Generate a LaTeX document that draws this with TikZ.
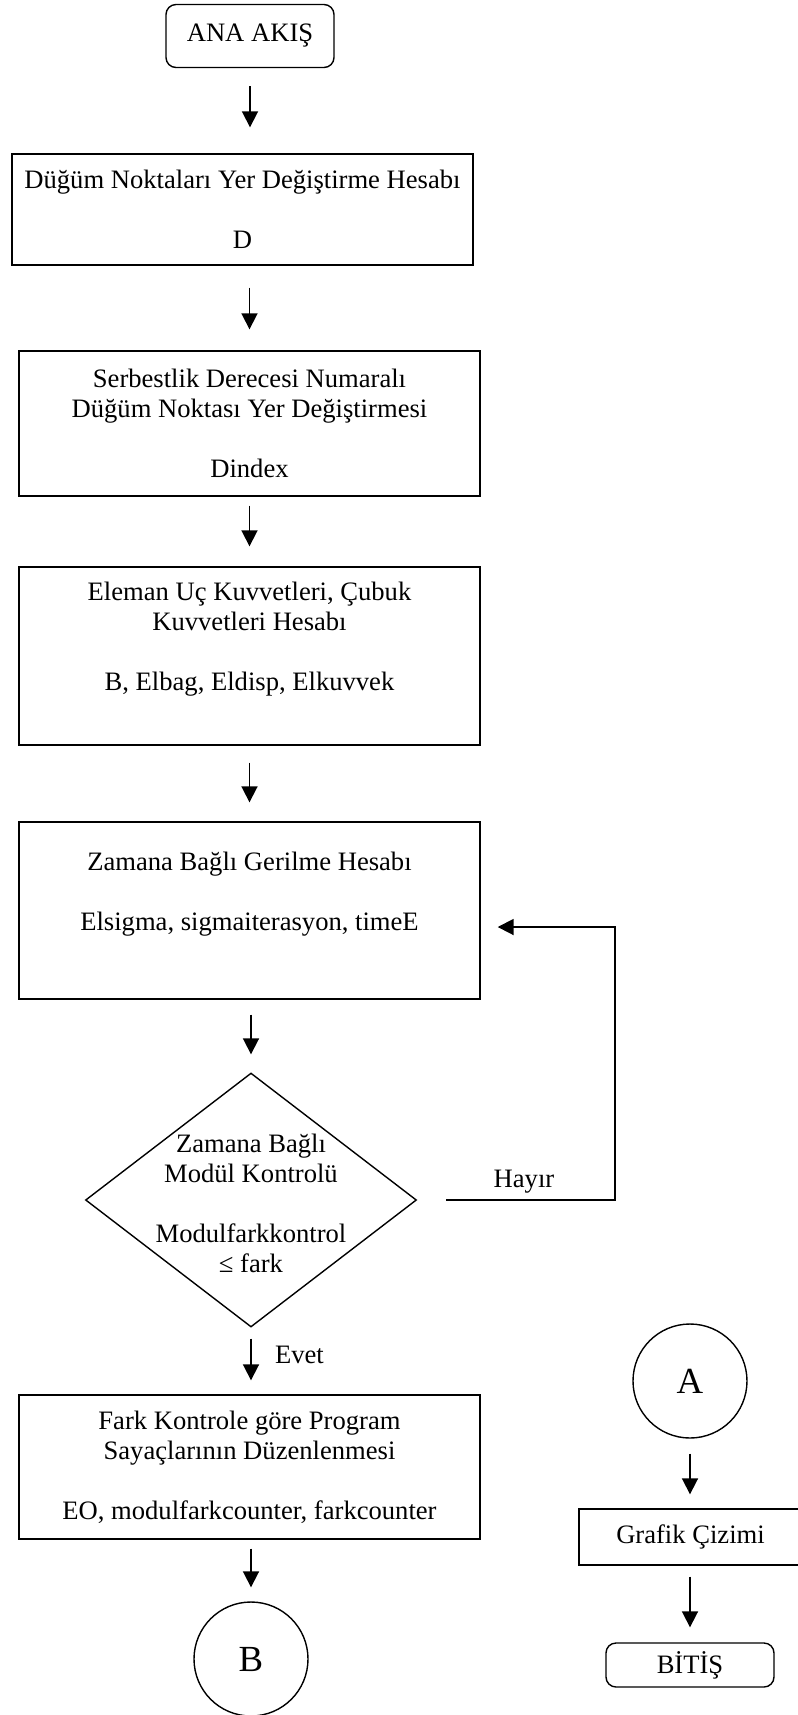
\documentclass[tikz,border=0pt]{standalone}
\usepackage{fontspec}
\setmainfont{Liberation Serif}
\usetikzlibrary{shapes.geometric,arrows.meta}
\begin{document}
\begin{tikzpicture}[x=0.5pt,y=-0.5pt,
        txt/.style={font=\fontsize{13.3}{15}\selectfont,align=center},
        box/.style={draw,line width=0.7pt,rectangle,inner sep=0pt,txt},
        term/.style={box,rounded corners=5pt},
        conn/.style={draw,circle,line width=0.7pt,inner sep=0pt,minimum size=57pt,font=\fontsize{18.4}{20}\selectfont},
        flow/.style={line width=0.9pt,-{Triangle[length=8pt,width=8pt]}}]
        \clip (0,0) rectangle (798,1715);
        %% Main flow
        \node[term,minimum width=84pt,minimum height=31.5pt] (S) at (250,36) {ANA AKIŞ};
        \node[box,minimum width=230.5pt,minimum height=55.5pt] (D) at (242.5,209.5) {Düğüm Noktaları Yer Değiştirme Hesabı\\[15pt] D};
        \node[box,minimum width=230.5pt,minimum height=72.5pt] (N) at (249.5,423.5) {Serbestlik Derecesi Numaralı\\ Düğüm Noktası Yer Değiştirmesi\\[15pt] Dindex};
        \node[box,minimum width=230.5pt,minimum height=89pt] (E) at (249.5,656) {Eleman Uç Kuvvetleri, Çubuk\\ Kuvvetleri Hesabı\\[15pt] B, Elbag, Eldisp, Elkuvvek\\ \strut};
        \node[box,minimum width=230.5pt,minimum height=88.5pt] (Z) at (249.5,910.5) {Zamana Bağlı Gerilme Hesabı\\[15pt] Elsigma, sigmaiterasyon, timeE\\ \strut};
        %% Decision
        \node[draw,diamond,line width=0.7pt,inner sep=0pt,minimum width=165.5pt,minimum height=127pt] (K) at (251,1200) {};
        \node[txt] (Kt) at (251,1203) {Zamana Bağlı\\ Modül Kontrolü\\[15pt] Modulfarkkontrol\\ ≤ fark};
        \node[box,minimum width=230.5pt,minimum height=72pt] (F) at (249.5,1467) {Fark Kontrole göre Program\\ Sayaçlarının Düzenlenmesi\\[15pt] EO, modulfarkcounter, farkcounter};
        \node[conn] (B) at (251,1659) {B};
        %% Plot branch
        \node[conn] (A) at (690,1381) {A};
        \node[box,minimum width=111.5pt,minimum height=28pt] (G) at (690.5,1537) {Grafik Çizimi};
        \node[term,minimum width=84pt,minimum height=22pt] (T) at (690,1665) {BİTİŞ};
        %% Arrows
        \draw[flow,shorten <=9pt,shorten >=13pt] (S.south) -- (S.south |- D.north);
        \draw[flow,shorten <=11pt,shorten >=10.5pt] (N.north |- D.south) -- (N.north);
        \draw[flow,shorten <=4.5pt,shorten >=10pt] (N.south) -- (E.north);
        \draw[flow,shorten <=8.5pt,shorten >=9.5pt] (E.south) -- (Z.north);
        \draw[flow,shorten <=7.5pt,shorten >=9pt] (K.north |- Z.south) -- (K.north);
        \draw[flow,shorten <=5.5pt,shorten >=7pt] (K.south) -- (K.south |- F.north);
        \node[txt,anchor=west] (Y) at (268,1355) {Evet};
        \draw[flow,shorten <=4.5pt,shorten >=7pt] (B.north |- F.south) -- (B.north);
        \draw[flow,shorten <=7.5pt,shorten >=7pt] (A.south) -- (A.south |- G.north);
        \draw[flow,shorten <=5.5pt,shorten >=7.5pt] (G.south -| T.north) -- (T.north);
        %% Loop back
        \coordinate (R) at (615,927);
        \draw[flow,shorten <=14.5pt,shorten >=8.5pt] (K.east) -| (R) -- (R -| Z.east);
        \node[txt] (H) at (524,1182) {Hayır};
    \end{tikzpicture}
\end{document}
